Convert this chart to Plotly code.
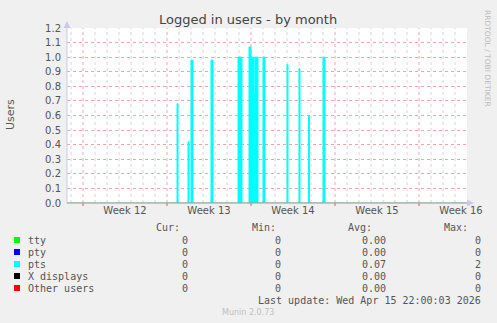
import plotly.graph_objects as go
from datetime import datetime, timedelta

# ---------------- data ----------------
pts_start = ["2026-03-23 20:00", "2026-03-24 18:00", "2026-03-25 00:00", "2026-03-26 16:00",
             "2026-03-28 22:00", "2026-03-29 20:00", "2026-03-30 00:00", "2026-03-30 06:00",
             "2026-03-30 08:00", "2026-03-31 00:00", "2026-04-02 00:00", "2026-04-03 00:00",
             "2026-04-03 19:00", "2026-04-05 00:00"]
pts_hours = [2, 2, 4, 4, 8, 4, 6, 2, 6, 4, 2, 2, 2, 4]
pts_value = [0.68, 0.42, 0.98, 0.98, 1.0, 1.07, 1.0, 0.75, 1.0, 1.0, 0.95, 0.92, 0.6, 1.0]

week_labels = ["Week 12", "Week 13", "Week 14", "Week 15", "Week 16"]
week_starts = ["2026-03-16", "2026-03-23", "2026-03-30", "2026-04-06", "2026-04-13"]

series_names = ["tty", "pty", "pts", "X displays", "Other users"]
series_colors = ["#00FF00", "#0000FF", "#00FFFF", "#000000", "#FF0000"]
cur_vals = ["0", "0", "0", "0", "0"]
min_vals = ["0", "0", "0", "0", "0"]
avg_vals = ["0.00", "0.00", "0.07", "0.00", "0.00"]
max_vals = ["0", "0", "2", "0", "0"]

x_start = "2026-03-14 16:00"
x_end = "2026-04-17 00:00"

# ---------------- build step series ----------------
fmt = "%Y-%m-%d %H:%M"
xs = [x_start]
ys = [0]
for s, h, v in zip(pts_start, pts_hours, pts_value):
    t0 = datetime.strptime(s, fmt)
    t1 = t0 + timedelta(hours=h)
    xs += [t0.strftime(fmt), t1.strftime(fmt)]
    ys += [v, 0]
xs.append(x_end)
ys.append(0)

fig = go.Figure()
fig.add_trace(go.Scatter(x=xs, y=ys, mode="lines", line=dict(shape="hv", width=1, color="#00FFFF"),
                         fill="tozeroy", fillcolor="#00FFFF", showlegend=False, hoverinfo="skip"))

L, T, W, H = 67, 28, 400, 175
def px(x):
    return (x - L) / W
def py(y):
    return (T + H - y) / H

shapes = []
# vertical grid: daily minor (gray) and weekly major (red)
d = datetime(2026, 3, 15)
end = datetime.strptime(x_end, fmt)
week_set = set(week_starts)
while d < end:
    ds = d.strftime("%Y-%m-%d")
    major = ds in week_set
    shapes.append(dict(type="line", xref="x", yref="paper", x0=ds, x1=ds, y0=0, y1=1,
                       line=dict(color="#E8A8A8" if major else "#D4D4D4", width=1, dash="dot"),
                       layer="below"))
    if major:
        shapes.append(dict(type="line", xref="x", yref="paper", x0=ds, x1=ds, y0=py(203), y1=py(206),
                           line=dict(color="#D06060", width=1)))
    d += timedelta(days=1)

# axis lines + arrows
shapes.append(dict(type="line", xref="paper", yref="paper", x0=px(67), x1=px(67), y0=0, y1=py(24),
                   line=dict(color="#C8C8F0", width=1)))
shapes.append(dict(type="path", xref="paper", yref="paper",
                   path=f"M {px(63.5)} {py(28)} L {px(70.5)} {py(28)} L {px(67)} {py(21)} Z",
                   fillcolor="#C8C8F0", line=dict(width=0)))
shapes.append(dict(type="line", xref="paper", yref="paper", x0=0, x1=1, y0=0, y1=0,
                   line=dict(color="#D88080", width=1)))
shapes.append(dict(type="path", xref="paper", yref="paper",
                   path=f"M {px(467)} {py(199.5)} L {px(467)} {py(206.5)} L {px(474)} {py(203)} Z",
                   fillcolor="#C8C8F0", line=dict(width=0)))

mono = "DejaVu Sans Mono"
tcol = "#555555"
annotations = []
# header
for txt, xr in [("Cur:", 182), ("Min:", 278), ("Avg:", 374), ("Max:", 470)]:
    annotations.append(dict(text=txt, x=px(xr), y=py(227), xref="paper", yref="paper",
                            xanchor="right", yanchor="middle", showarrow=False,
                            font=dict(family=mono, size=10, color=tcol)))
row_y = [240, 252, 264, 276, 288]
for i, name in enumerate(series_names):
    y = row_y[i]
    shapes.append(dict(type="rect", xref="paper", yref="paper", x0=px(14), x1=px(20),
                       y0=py(y - 3), y1=py(y + 3), fillcolor=series_colors[i], line=dict(width=0)))
    annotations.append(dict(text=name, x=px(26), y=py(y), xref="paper", yref="paper",
                            xanchor="left", yanchor="middle", showarrow=False,
                            font=dict(family=mono, size=10, color=tcol)))
    for val, xr in [(cur_vals[i], 190), (min_vals[i], 283), (avg_vals[i], 388), (max_vals[i], 483)]:
        annotations.append(dict(text=val, x=px(xr), y=py(y), xref="paper", yref="paper",
                                xanchor="right", yanchor="middle", showarrow=False,
                                font=dict(family=mono, size=10, color=tcol)))
annotations.append(dict(text="Last update: Wed Apr 15 22:00:03 2026", x=px(483), y=py(300),
                        xref="paper", yref="paper", xanchor="right", yanchor="middle", showarrow=False,
                        font=dict(family=mono, size=10, color=tcol)))
annotations.append(dict(text="Munin 2.0.73", x=px(248), y=py(312), xref="paper", yref="paper",
                        xanchor="center", yanchor="middle", showarrow=False,
                        font=dict(family="DejaVu Sans", size=8, color="#C0C0C0")))
annotations.append(dict(text="Logged in users - by month", x=px(248), y=py(19), xref="paper", yref="paper",
                        xanchor="center", yanchor="middle", showarrow=False,
                        font=dict(family="DejaVu Sans", size=13, color="#444444")))
annotations.append(dict(text="Users", x=px(10), y=py(115), xref="paper", yref="paper",
                        xanchor="center", yanchor="middle", showarrow=False, textangle=-90,
                        font=dict(family="DejaVu Sans", size=11, color="#555555")))
annotations.append(dict(text="RRDTOOL / TOBI OETIKER", x=px(487), y=py(58), xref="paper", yref="paper",
                        xanchor="center", yanchor="middle", showarrow=False, textangle=90,
                        font=dict(family="DejaVu Sans", size=7.5, color="#BBBBBB")))

week_mid = [(datetime.strptime(w, "%Y-%m-%d") + timedelta(days=3, hours=12)).strftime(fmt) for w in week_starts]

fig.update_layout(
    width=497, height=323,
    margin=dict(l=L, r=497 - L - W, t=T, b=323 - T - H, pad=0),
    paper_bgcolor="#F0F0F0", plot_bgcolor="#FFFFFF",
    showlegend=False,
    shapes=shapes, annotations=annotations,
    xaxis=dict(type="date", range=[x_start, x_end], tickvals=week_mid, ticktext=week_labels,
               showgrid=False, zeroline=False, showline=False, ticks="",
               tickfont=dict(family="DejaVu Sans", size=10, color=tcol), fixedrange=True),
    yaxis=dict(range=[0, 1.2], dtick=0.1, tickformat=".1f", showgrid=True,
               gridcolor="#E8A8A8", griddash="dot", gridwidth=1, zeroline=False, showline=False,
               ticks="", ticklabelstandoff=5,
               tickfont=dict(family="DejaVu Sans", size=10, color=tcol), fixedrange=True),
)

fig.write_html("out.html")
